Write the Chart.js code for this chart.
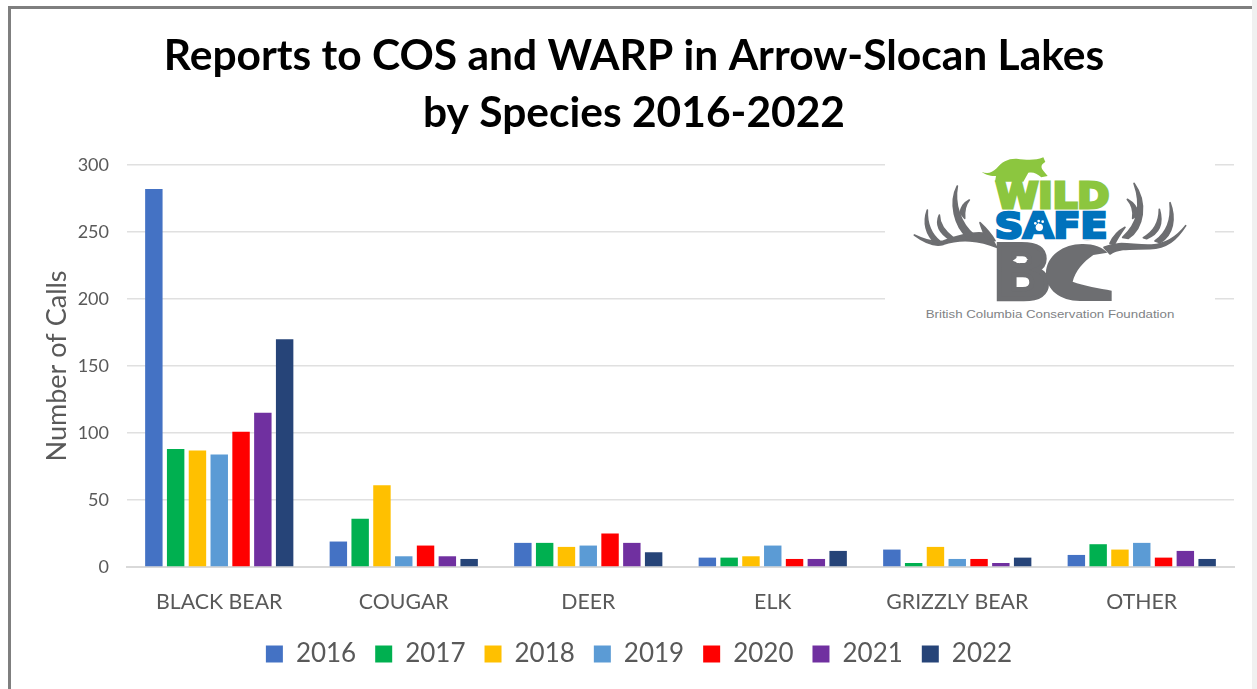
<!DOCTYPE html>
<html>
<head>
<meta charset="utf-8">
<title>Reports to COS and WARP</title>
<script src="https://cdn.jsdelivr.net/npm/chart.js@4"></script>
<style>
  html, body { margin: 0; padding: 0; background: #fff; overflow: hidden; }
  #frame { position: absolute; left: 8px; top: 6px; width: 1244px; height: 700px; border-left: 3px solid #7f7f7f; border-top: 3px solid #7f7f7f; box-sizing: border-box; }
  #edge { position: absolute; left: 1252px; top: 0; width: 5px; height: 689px; background: #f0f0f0; }
  #chart { position: absolute; left: 0; top: 0; }
  #logo { position: absolute; left: 880px; top: 140px; }
</style>
</head>
<body>
<div id="frame"></div>
<div id="edge"></div>
<canvas id="chart" width="1257" height="689"></canvas>
<svg id="logo" width="340" height="200" viewBox="0 0 1020 600">
  <rect x="15" y="0" width="990" height="600" fill="#fff"/>
  <text x="336" y="478" font-family="DejaVu Sans" font-weight="bold" font-size="224" fill="#6d6e71" stroke="#6d6e71" stroke-width="14" textLength="354" lengthAdjust="spacingAndGlyphs">BC</text>
  <rect x="508" y="302" width="220" height="200" fill="#fff"/>
  <g fill="#6d6e71" stroke="#6d6e71" stroke-width="5" stroke-linejoin="round">
    <path d="M350,322 C300,300 240,295 190,313 C160,322 130,305 103,285 C130,298 160,310 190,303 C240,285 300,270 330,285 Z"/>
    <path d="M262,292 C225,260 205,190 232,138 C222,190 240,250 282,285 Z"/>
    <path d="M240,218 C245,200 250,190 268,180 C255,195 252,210 254,235 Z"/>
    <path d="M212,300 C180,280 165,255 178,225 C178,255 195,275 222,295 Z"/>
    <path d="M168,312 C140,285 128,250 142,210 C140,250 155,285 182,306 Z"/>
    <path d="M316,292 C312,280 305,265 300,248 C315,262 332,280 345,302 Z"/>
    <path d="M672,322 C720,300 760,318 815,315 C860,312 895,285 917,257 C890,300 860,325 810,326 C760,328 720,322 690,342 Z"/>
    <path d="M745,295 C790,265 805,190 762,130 C785,195 775,250 728,292 Z"/>
    <path d="M776,222 C770,200 762,190 742,178 C758,196 762,212 758,235 Z"/>
    <path d="M800,296 C840,280 850,250 838,208 C838,250 822,275 790,293 Z"/>
    <path d="M840,308 C880,285 888,235 870,188 C875,235 865,275 825,303 Z"/>
    <path d="M704,312 C712,295 722,280 735,262 C716,272 700,288 690,310 Z"/>
  </g>
  <path fill="#6d6e71" d="M498,400 C498,345 555,310 610,312 C640,312 668,322 682,338 L640,345 C610,365 585,395 578,425 C610,437 660,445 695,452 L695,483 L600,483 C540,483 498,450 498,400 Z"/>
  <path fill="#8cc63f" d="M305,95 C320,103 335,100 350,85 C365,65 385,55 410,56 C440,60 465,62 490,52 L496,66 C485,72 480,80 490,92 L503,108 L484,112 C470,100 460,95 445,98 L430,125 L345,125 L348,108 C335,108 318,106 305,95 Z"/>
  <text x="347" y="203" font-family="DejaVu Sans" font-weight="bold" font-size="104" fill="#8cc63f" stroke="#8cc63f" stroke-width="9" textLength="341" lengthAdjust="spacingAndGlyphs">WILD</text>
  <text x="344" y="295" font-family="DejaVu Sans" font-weight="bold" font-size="104" fill="#0072bc" stroke="#0072bc" stroke-width="8" textLength="338" lengthAdjust="spacingAndGlyphs">SAFE</text>
  <path fill="#fff" d="M398,362 L415,350 L445,358 L418,370 Z"/>
  <circle cx="478" cy="262" r="11" fill="#fff"/>
  <circle cx="466" cy="250" r="4" fill="#fff"/><circle cx="476" cy="243" r="4" fill="#fff"/><circle cx="488" cy="245" r="4" fill="#fff"/>
  <text x="510" y="535" text-anchor="middle" font-family="Liberation Sans" font-size="35" fill="#808285" textLength="746" lengthAdjust="spacingAndGlyphs">British Columbia Conservation Foundation</text>
</svg>
<script>
const species = ["BLACK BEAR", "COUGAR", "DEER", "ELK", "GRIZZLY BEAR", "OTHER"];
const years = ["2016", "2017", "2018", "2019", "2020", "2021", "2022"];
const colors = ["#4472C4", "#00B050", "#FFC000", "#5B9BD5", "#FF0000", "#7030A0", "#264478"];

const calls2016 = [282, 19, 18, 7, 13, 9];
const calls2017 = [88, 36, 18, 7, 3, 17];
const calls2018 = [87, 61, 15, 8, 15, 13];
const calls2019 = [84, 8, 16, 16, 6, 18];
const calls2020 = [101, 16, 25, 6, 6, 7];
const calls2021 = [115, 8, 18, 6, 3, 12];
const calls2022 = [170, 6, 11, 12, 7, 6];
const allCalls = [calls2016, calls2017, calls2018, calls2019, calls2020, calls2021, calls2022];

const gray = "#595959";

// the legend in the reference sits a bit right of the title
const nudgeLegend = {
    id: "nudgeLegend",
    beforeDraw(chart) {
        chart.legend.left += 5;
        chart.legend.right += 5;
    }
};

const ctx = document.getElementById("chart").getContext("2d");
new Chart(ctx, {
    type: "bar",
    data: {
        labels: species,
        datasets: years.map((y, i) => ({
            label: y,
            data: allCalls[i],
            backgroundColor: colors[i],
            categoryPercentage: 0.827,
            barPercentage: 0.8
        }))
    },
    options: {
        responsive: false,
        animation: false,
        layout: { padding: { left: 34, right: 23, top: 0, bottom: 12 } },
        plugins: {
            title: {
                display: true,
                text: ["Reports to COS and WARP in Arrow-Slocan Lakes", "by Species 2016-2022"],
                color: "#000",
                font: { family: "Lato", size: 42.5, weight: "bold", lineHeight: 1.34 },
                padding: { top: 28, bottom: 23 }
            },
            legend: {
                position: "bottom",
                labels: {
                    color: gray,
                    font: { family: "Lato", size: 26 },
                    boxWidth: 17,
                    boxHeight: 17,
                    padding: 19
                }
            },
            tooltip: { enabled: false }
        },
        scales: {
            x: {
                afterFit: (scale) => { scale.height = 110 - scale.chart.legend.height; },
                grid: { display: false },
                border: { color: "#d9d9d9", width: 2 },
                ticks: { color: gray, font: { family: "Lato", size: 21.3 }, padding: 14, maxRotation: 0 }
            },
            y: {
                min: 0,
                max: 300,
                afterFit: (scale) => { scale.width = 93; },
                grid: { color: "#e0e0e0", lineWidth: 1.5, drawTicks: false },
                border: { display: false },
                ticks: { stepSize: 50, color: gray, font: { family: "Lato", size: 18 }, padding: 18 },
                title: {
                    display: true,
                    text: "Number of Calls",
                    color: gray,
                    font: { family: "Lato", size: 27, lineHeight: 1.2 },
                    padding: { top: 7, bottom: 0 }
                }
            }
        }
    },
    plugins: [nudgeLegend]
});
</script>
</body>
</html>
